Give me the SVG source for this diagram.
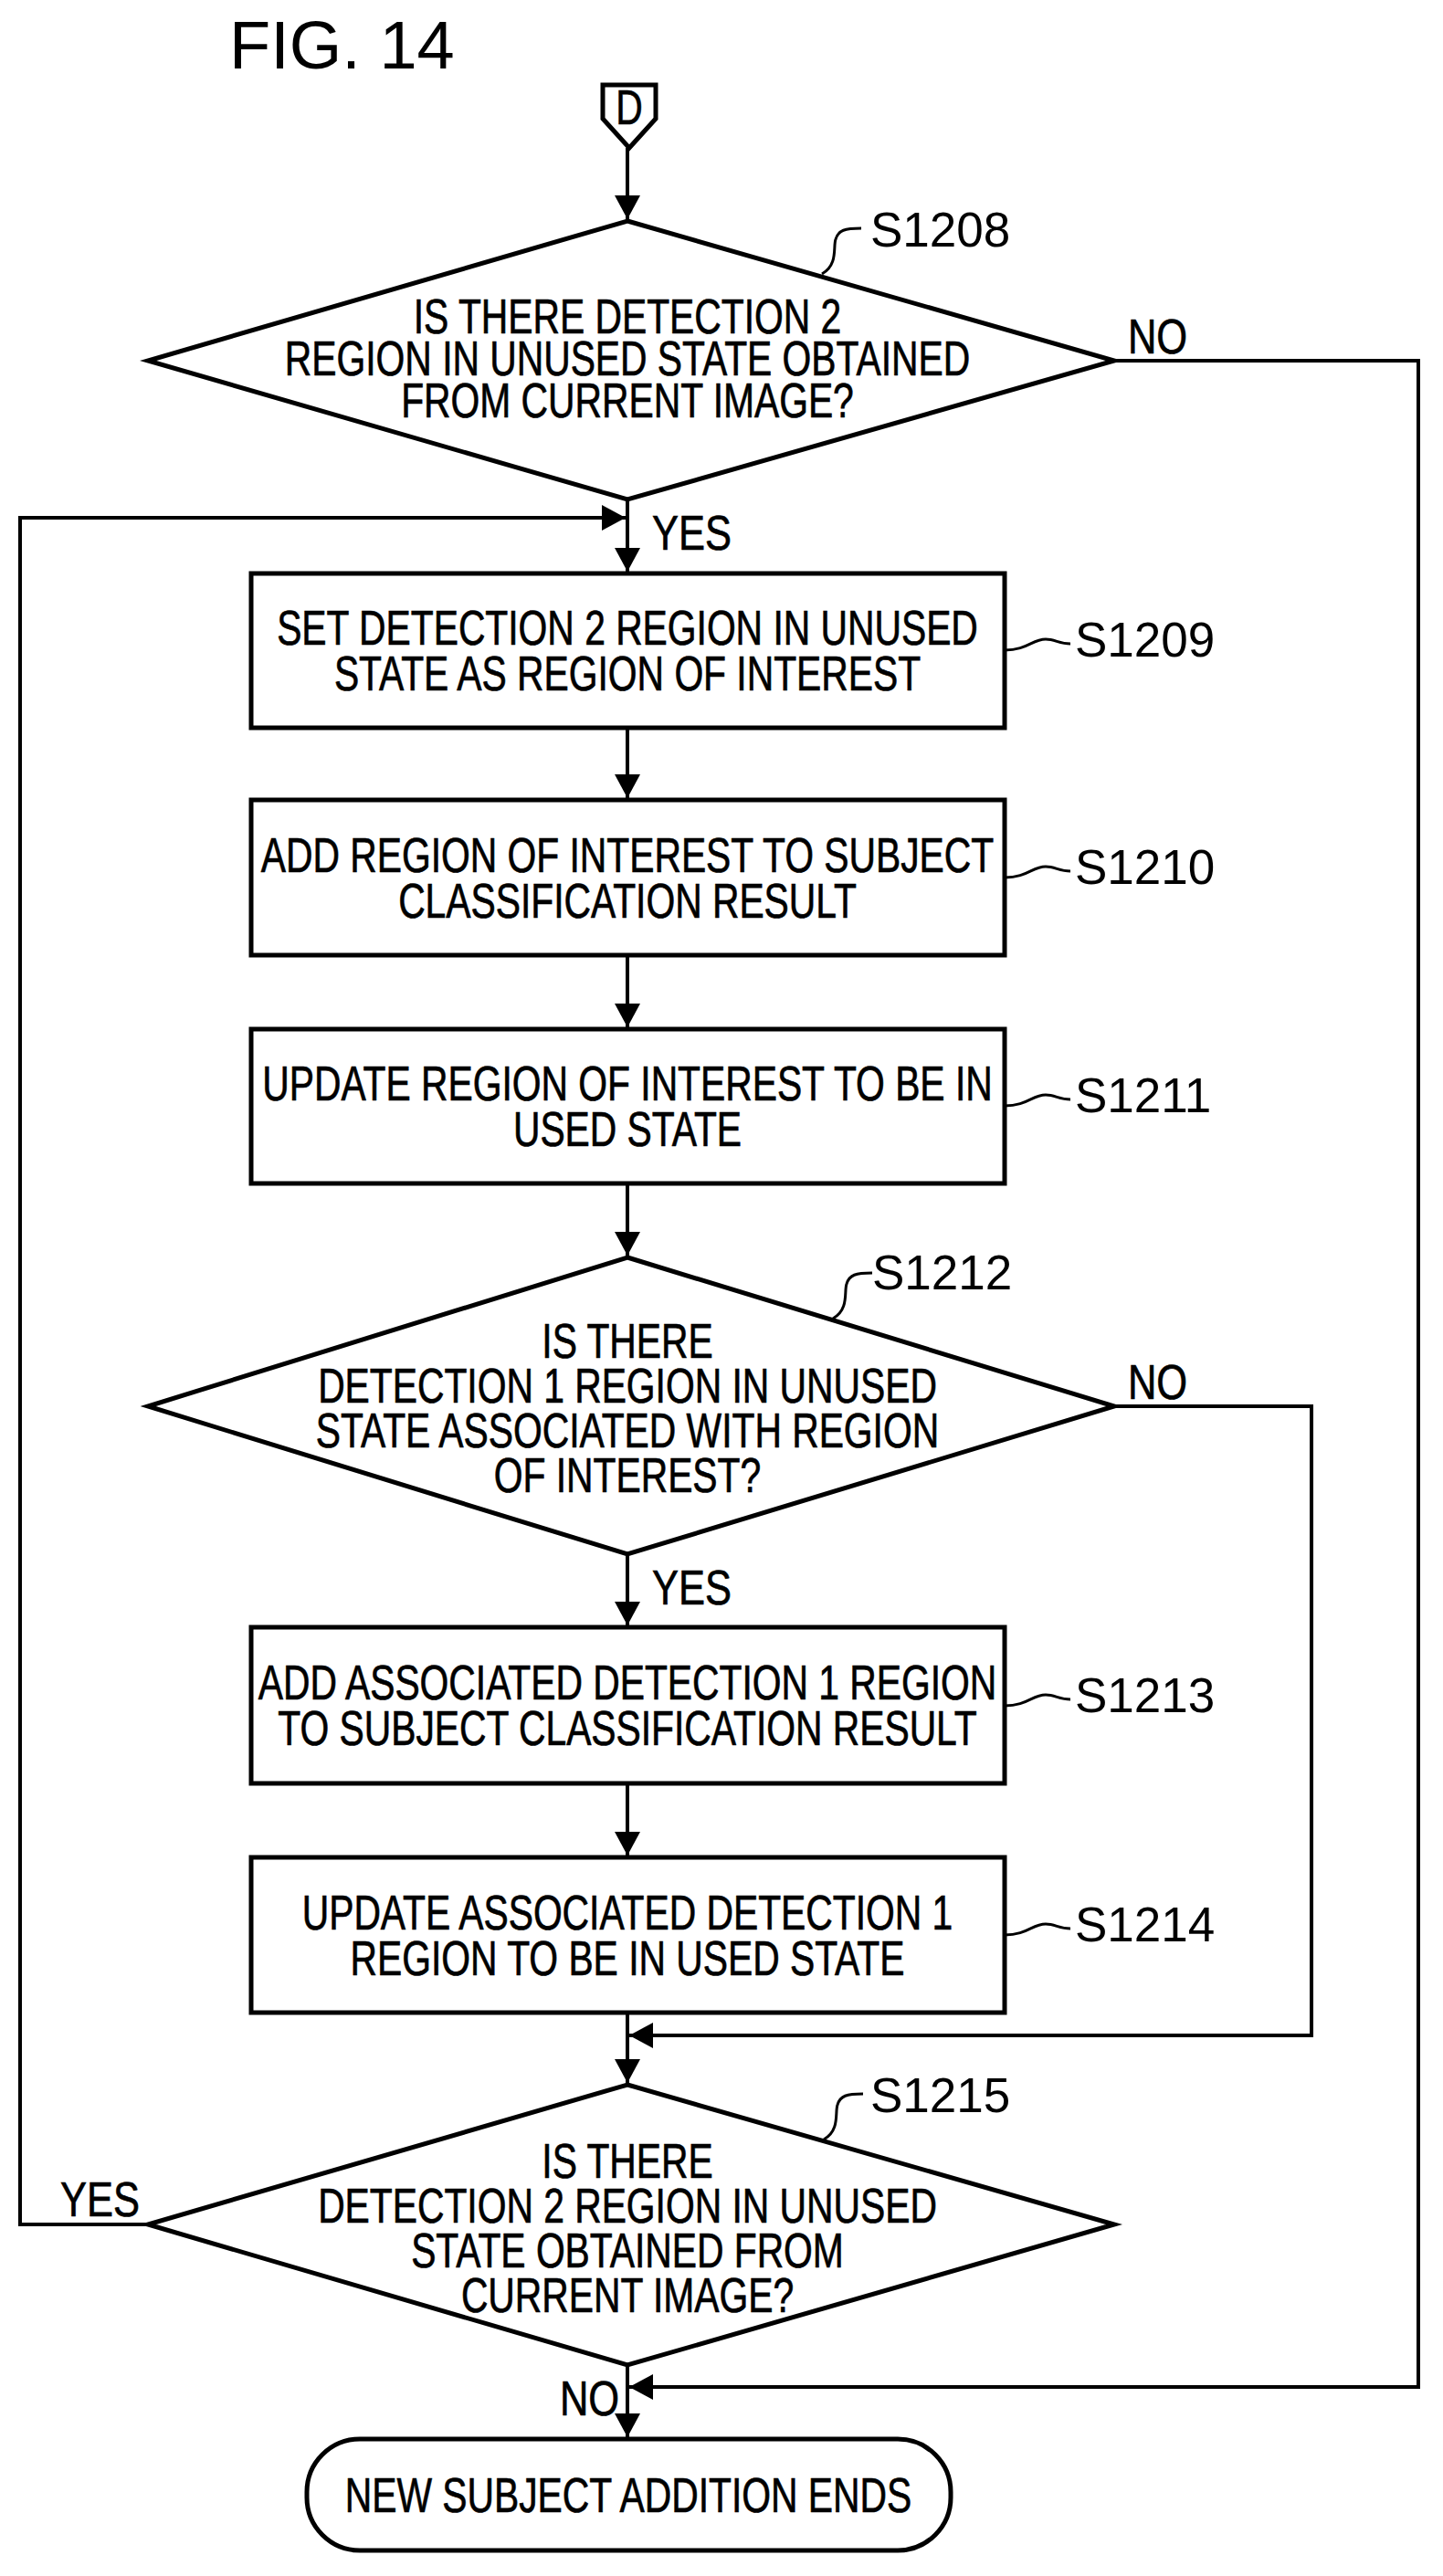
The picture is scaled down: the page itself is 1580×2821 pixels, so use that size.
<svg xmlns="http://www.w3.org/2000/svg" width="1580" height="2821" viewBox="0 0 1580 2821">
<style>
.t{font-family:"Liberation Sans",Arial,sans-serif;font-size:53px;text-anchor:middle;fill:#000;stroke:#000;stroke-width:0.7;transform-box:fill-box;transform-origin:center;transform:scaleX(0.77)}
.l{font-family:"Liberation Sans",Arial,sans-serif;font-size:53px;fill:#000;stroke:#000;stroke-width:0.7;transform-box:fill-box;transform-origin:left;transform:scaleX(0.82)}
.n{font-family:"Liberation Sans",Arial,sans-serif;font-size:53px;fill:#000}
.s{fill:#fff;stroke:#000;stroke-width:5}
.c{fill:none;stroke:#000;stroke-width:4}
.q{fill:none;stroke:#000;stroke-width:3}
</style>
<defs>
<marker id="a" markerUnits="userSpaceOnUse" markerWidth="28" markerHeight="28" refX="26" refY="14" orient="auto"><path d="M0,0 L26,14 L0,28 z" fill="#000"/></marker>
</defs>
<text x="251" y="75" style="font-family:'Liberation Sans',Arial,sans-serif;font-size:74px">FIG. 14</text>
<g id="connectors">
<path class="c" d="M687,162 V240" marker-end="url(#a)"/>
<path class="c" d="M687,547 V626" marker-end="url(#a)"/>
<path class="c" d="M687,797 V874" marker-end="url(#a)"/>
<path class="c" d="M687,1046 V1125" marker-end="url(#a)"/>
<path class="c" d="M687,1296 V1375" marker-end="url(#a)"/>
<path class="c" d="M687,1702 V1780" marker-end="url(#a)"/>
<path class="c" d="M687,1953 V2032" marker-end="url(#a)"/>
<path class="c" d="M687,2204 V2281" marker-end="url(#a)"/>
<path class="c" d="M687,2590 V2669" marker-end="url(#a)"/>
<path class="c" d="M1220,395 H1553 V2614 H689" marker-end="url(#a)"/>
<path class="c" d="M1220,1540 H1436 V2229 H689" marker-end="url(#a)"/>
<path class="c" d="M162,2436 H22 V567 H685" marker-end="url(#a)"/>
<text class="l" x="1235" y="387">NO</text>
<text class="l" x="714" y="602">YES</text>
<text class="l" x="1235" y="1532">NO</text>
<text class="l" x="714" y="1757">YES</text>
<text class="l" x="66" y="2427">YES</text>
<text class="l" x="613" y="2645">NO</text>
</g>
<g id="D">
<polygon class="s" points="660,93 718,93 718,130 689,162 660,130"/>
<text class="t" x="689" y="136">D</text>
</g>
<g id="S1208">
<polygon class="s" points="687,242 1220,395 687,547 162,395"/>
<text class="t" x="687" y="365">IS THERE DETECTION 2</text>
<text class="t" x="687" y="411">REGION IN UNUSED STATE OBTAINED</text>
<text class="t" x="687" y="457">FROM CURRENT IMAGE?</text>
<path class="q" d="M900,300 C918,290 912,270 915,262 C918,252 925,250 943,250"/>
<text class="n" x="953" y="270">S1208</text>
</g>
<g id="S1209">
<rect class="s" x="275" y="628" width="825" height="169"/>
<text class="t" x="687" y="706">SET DETECTION 2 REGION IN UNUSED</text>
<text class="t" x="687" y="756">STATE AS REGION OF INTEREST</text>
<path class="q" d="M1100,712 C1125,712 1130,700 1145,700 C1155,700 1160,705 1172,705"/>
<text class="n" x="1177" y="719">S1209</text>
</g>
<g id="S1210">
<rect class="s" x="275" y="876" width="825" height="170"/>
<text class="t" x="687" y="955">ADD REGION OF INTEREST TO SUBJECT</text>
<text class="t" x="687" y="1005">CLASSIFICATION RESULT</text>
<path class="q" d="M1100,961 C1125,961 1130,949 1145,949 C1155,949 1160,954 1172,954"/>
<text class="n" x="1177" y="968">S1210</text>
</g>
<g id="S1211">
<rect class="s" x="275" y="1127" width="825" height="169"/>
<text class="t" x="687" y="1205">UPDATE REGION OF INTEREST TO BE IN</text>
<text class="t" x="687" y="1255">USED STATE</text>
<path class="q" d="M1100,1211 C1125,1211 1130,1199 1145,1199 C1155,1199 1160,1204 1172,1204"/>
<text class="n" x="1177" y="1218">S1211</text>
</g>
<g id="S1212">
<polygon class="s" points="687,1377 1220,1540 687,1702 162,1540"/>
<text class="t" x="687" y="1487">IS THERE</text>
<text class="t" x="687" y="1536">DETECTION 1 REGION IN UNUSED</text>
<text class="t" x="687" y="1585">STATE ASSOCIATED WITH REGION</text>
<text class="t" x="687" y="1634">OF INTEREST?</text>
<path class="q" d="M912,1444 C930,1434 924,1414 927,1406 C930,1396 937,1394 955,1394"/>
<text class="n" x="955" y="1412">S1212</text>
</g>
<g id="S1213">
<rect class="s" x="275" y="1782" width="825" height="171"/>
<text class="t" x="687" y="1861">ADD ASSOCIATED DETECTION 1 REGION</text>
<text class="t" x="687" y="1911">TO SUBJECT CLASSIFICATION RESULT</text>
<path class="q" d="M1100,1868 C1125,1868 1130,1856 1145,1856 C1155,1856 1160,1861 1172,1861"/>
<text class="n" x="1177" y="1875">S1213</text>
</g>
<g id="S1214">
<rect class="s" x="275" y="2034" width="825" height="170"/>
<text class="t" x="687" y="2113">UPDATE ASSOCIATED DETECTION 1</text>
<text class="t" x="687" y="2163">REGION TO BE IN USED STATE</text>
<path class="q" d="M1100,2119 C1125,2119 1130,2107 1145,2107 C1155,2107 1160,2112 1172,2112"/>
<text class="n" x="1177" y="2126">S1214</text>
</g>
<g id="S1215">
<polygon class="s" points="687,2283 1220,2436 687,2590 162,2436"/>
<text class="t" x="687" y="2385">IS THERE</text>
<text class="t" x="687" y="2434">DETECTION 2 REGION IN UNUSED</text>
<text class="t" x="687" y="2483">STATE OBTAINED FROM</text>
<text class="t" x="687" y="2532">CURRENT IMAGE?</text>
<path class="q" d="M902,2343 C920,2333 914,2313 917,2305 C920,2295 927,2293 945,2293"/>
<text class="n" x="953" y="2313">S1215</text>
</g>
<g id="end">
<rect class="s" x="336" y="2671" width="705" height="122" rx="58"/>
<text class="t" x="688" y="2751">NEW SUBJECT ADDITION ENDS</text>
</g>
</svg>
